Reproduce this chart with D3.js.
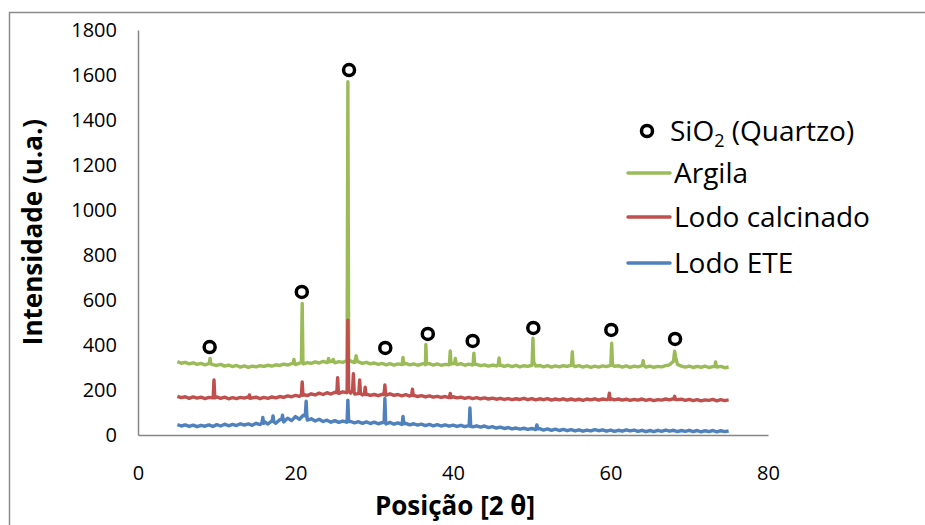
<!DOCTYPE html>
<html>
<head>
<meta charset="utf-8">
<script src="https://cdn.jsdelivr.net/npm/d3@7"></script>
<style>
  body { margin: 0; background: #fff; }
  svg { display: block; }
</style>
</head>
<body>
<div id="chart"></div>
<script>
// 2-theta grid used by the baseline readings (5 to 75, every 0.5 deg)
const twoTheta = d3.range(5, 75.001, 0.5);

// Argila baseline
const argilaBase = [
  326,319,323,316,321,314,318,312,317,313,
  309,314,306,311,304,309,302,307,301,306,
  303,308,305,310,306,312,309,315,311,317,
  313,319,316,322,318,325,320,327,322,328,
  321,326,323,330,328,322,325,318,323,316,
  320,314,318,312,317,311,316,313,318,312,
  316,310,315,312,317,311,316,310,314,312,
  318,313,317,310,315,311,314,308,312,306,
  311,307,312,305,310,304,309,303,308,305,
  310,306,309,303,308,302,307,303,308,305,
  310,304,308,302,307,301,306,302,307,304,
  309,305,308,302,307,301,306,303,308,302,
  306,301,305,303,308,312,328,314,306,302,
  306,300,305,301,306,300,304,302,305,299,
  302
];
// Argila peaks [2theta, intensity]
const argilaPeaks = [
  [9.05,318],[9.15,340],[9.25,316],
  [19.7,318],[19.8,336],[19.9,317],
  [20.75,322],[20.85,585],[20.95,320],
  [24.1,326],[24.2,340],[24.3,325],
  [24.7,327],[24.8,336],[24.9,324],
  [26.55,330],[26.65,1570],[26.75,335],
  [27.55,330],[27.7,352],[27.85,326],
  [33.55,316],[33.65,345],[33.75,315],
  [36.45,318],[36.55,402],[36.65,316],
  [39.55,316],[39.65,374],[39.75,315],
  [40.2,318],[40.3,340],[40.4,316],
  [42.55,316],[42.65,364],[42.75,314],
  [45.75,312],[45.85,342],[45.95,310],
  [50.05,322],[50.15,430],[50.25,325],
  [55.05,312],[55.15,370],[55.25,310],
  [60.05,315],[60.15,408],[60.25,312],
  [64.05,310],[64.15,330],[64.25,308],
  [68.05,345],[68.15,372],[68.3,342],
  [73.25,304],[73.35,325],[73.45,303]
];

// Lodo calcinado baseline
const calcinadoBase = [
  172,166,170,163,169,164,168,162,167,165,
  169,163,168,161,166,162,167,164,170,165,
  168,162,167,163,169,165,171,167,174,170,
  176,172,180,175,183,178,186,180,188,182,
  190,185,192,188,186,182,184,178,182,176,
  180,175,181,177,183,176,180,174,179,173,
  177,171,175,169,174,168,172,167,171,166,
  170,165,168,163,167,162,166,161,165,160,
  164,159,163,158,162,157,161,158,163,157,
  162,156,161,157,162,155,160,156,161,155,
  160,155,159,154,160,156,161,155,160,157,
  162,156,160,155,159,154,158,155,160,154,
  158,153,157,155,160,156,162,157,159,154,
  158,153,157,152,156,154,158,152,157,153,
  156
];
const calcinadoPeaks = [
  [9.55,167],[9.65,245],[9.75,165],
  [14.05,166],[14.15,178],[14.25,163],
  [20.75,178],[20.85,236],[20.95,176],
  [25.25,188],[25.35,255],[25.45,186],
  [26.55,190],[26.65,510],[26.75,195],
  [27.25,200],[27.35,272],[27.45,195],
  [28.05,190],[28.15,245],[28.25,185],
  [28.75,182],[28.85,212],[28.95,180],
  [31.25,180],[31.35,222],[31.45,178],
  [34.75,177],[34.85,204],[34.95,175],
  [39.55,168],[39.65,185],[39.75,166],
  [59.75,160],[59.85,186],[59.95,158],
  [68.05,160],[68.15,172],[68.25,158]
];

// Lodo ETE baseline
const eteBase = [
  46,40,45,38,44,37,43,39,45,38,
  46,40,48,41,47,42,50,44,49,43,
  52,46,60,49,63,52,68,58,75,64,
  82,70,88,66,72,62,70,60,66,57,
  64,56,62,57,60,54,59,52,58,51,
  57,50,55,49,56,48,54,47,52,45,
  50,44,48,42,47,41,46,40,45,39,
  44,38,43,37,42,36,41,35,40,33,
  37,31,35,29,33,27,31,26,30,25,
  29,24,28,22,27,21,26,20,25,19,
  24,18,23,17,22,18,24,19,23,17,
  22,16,21,17,23,18,22,16,21,15,
  20,15,21,16,22,17,21,15,20,16,
  21,15,20,14,19,15,20,14,19,15,
  18
];
const etePeaks = [
  [15.75,55],[15.85,78],[15.95,52],
  [17.05,62],[17.15,85],[17.25,58],
  [18.25,70],[18.35,88],[18.45,66],
  [21.25,85],[21.35,150],[21.45,80],
  [26.55,62],[26.65,155],[26.75,60],
  [31.25,55],[31.35,162],[31.45,52],
  [33.55,52],[33.65,82],[33.75,50],
  [42.05,40],[42.15,120],[42.25,38],
  [50.55,30],[50.65,45],[50.75,28]
];

// SiO2 (quartzo) markers
const quartzX = [9.1, 20.8, 26.8, 31.4, 36.8, 42.5, 50.2, 60.1, 68.2];
const quartzY = [391, 636, 1622, 387, 449, 418, 476, 467, 427];

const xTicks = [0, 20, 40, 60, 80];
const yTicks = [0, 200, 400, 600, 800, 1000, 1200, 1400, 1600, 1800];

const seriesNames = ["Argila", "Lodo calcinado", "Lodo ETE"];
const seriesColors = ["#9BBB59", "#C0504D", "#4F81BD"];

var width = 925, height = 525;
var font = "'Open Sans', 'Noto Sans', sans-serif";

var svg = d3.select("#chart").append("svg")
    .attr("width", width).attr("height", height);

// outer chart frame
svg.append("rect")
    .attr("x", 9.5).attr("y", 12.5)
    .attr("width", 1000).attr("height", 1000)
    .attr("fill", "none").attr("stroke", "#8a8a8a").attr("stroke-width", 1.5);

var x = d3.scaleLinear().domain([0, 80]).range([138, 768]);
var y = d3.scaleLinear().domain([0, 1800]).range([435, 30]);

// axes
var yAxis = svg.append("g").attr("transform", "translate(138,0)")
    .call(d3.axisLeft(y).tickValues(yTicks).tickFormat(d3.format("d")).tickSize(0).tickPadding(21));
var xAxis = svg.append("g").attr("transform", "translate(0,435)")
    .call(d3.axisBottom(x).tickValues(xTicks).tickFormat(d3.format("d")).tickSize(0).tickPadding(31));

[xAxis, yAxis].forEach(function (g) {
    g.select(".domain").attr("stroke", "#868686").attr("stroke-width", 1.5);
    g.selectAll("text")
        .style("font-family", font).style("font-size", "20px").attr("fill", "#000");
});

// axis titles
svg.append("text")
    .attr("transform", "translate(42,232) rotate(-90)")
    .attr("text-anchor", "middle")
    .style("font-family", font).style("font-size", "26px").style("font-weight", "bold")
    .text("Intensidade (u.a.)");

svg.append("text")
    .attr("x", 455).attr("y", 515)
    .attr("text-anchor", "middle")
    .style("font-family", font).style("font-size", "26px").style("font-weight", "bold")
    .text("Posição [2 θ]");

// merge baseline readings with peak readings
function combine(base, peaks) {
    var pts = base.map(function (v, i) { return [twoTheta[i], v]; });
    return pts.concat(peaks).sort(function (a, b) { return a[0] - b[0]; });
}

var allSeries = [
    combine(argilaBase, argilaPeaks),
    combine(calcinadoBase, calcinadoPeaks),
    combine(eteBase, etePeaks)
];

var line = d3.line()
    .x(function (d) { return x(d[0]); })
    .y(function (d) { return y(d[1]); });

allSeries.forEach(function (s, i) {
    svg.append("path")
        .datum(s)
        .attr("fill", "none")
        .attr("stroke", seriesColors[i])
        .attr("stroke-width", 3.4)
        .attr("stroke-linejoin", "round")
        .attr("d", line);
});

// quartz markers
svg.selectAll(".quartz")
    .data(quartzX)
    .enter().append("circle")
    .attr("class", "quartz")
    .attr("cx", function (d) { return x(d); })
    .attr("cy", function (d, i) { return y(quartzY[i]); })
    .attr("r", 5.5)
    .attr("fill", "#fff")
    .attr("stroke", "#000")
    .attr("stroke-width", 3.5);

// legend
var legend = svg.append("g");
legend.append("circle")
    .attr("cx", 647).attr("cy", 131).attr("r", 5.5)
    .attr("fill", "#fff").attr("stroke", "#000").attr("stroke-width", 3.5);
var sio2 = legend.append("text")
    .attr("x", 670).attr("y", 141)
    .style("font-family", font).style("font-size", "28px");
sio2.append("tspan").text("SiO");
sio2.append("tspan").attr("dy", 6).style("font-size", "18px").text("2");
sio2.append("tspan").attr("dy", -6).text(" (Quartzo)");

var rowsY = [173, 217, 263];
seriesNames.forEach(function (name, i) {
    legend.append("line")
        .attr("x1", 628).attr("x2", 670)
        .attr("y1", rowsY[i]).attr("y2", rowsY[i])
        .attr("stroke", seriesColors[i]).attr("stroke-width", 3.5)
        .attr("stroke-linecap", "round");
    legend.append("text")
        .attr("x", 674).attr("y", rowsY[i] + 10)
        .style("font-family", font).style("font-size", "28px")
        .text(name);
});
</script>
</body>
</html>
